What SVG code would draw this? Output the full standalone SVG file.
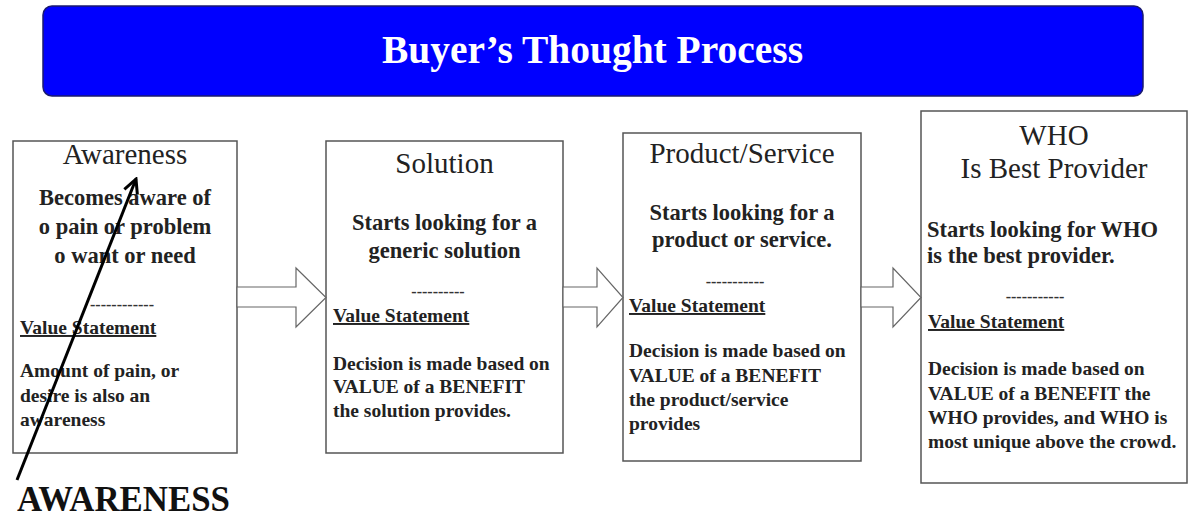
<svg xmlns="http://www.w3.org/2000/svg" width="1194" height="519" viewBox="0 0 1194 519">
<style>
.box{fill:#fff;stroke:#555;stroke-width:1.5}
.blk{fill:#fff;stroke:#666;stroke-width:1.2}
.hd{font-family:"Liberation Serif","Times New Roman",serif;font-size:29px;fill:#222;text-anchor:middle}
.tb{font-family:"Liberation Serif","Times New Roman",serif;font-weight:bold;font-size:22.5px;fill:#222}
.lb{font-family:"Liberation Serif","Times New Roman",serif;font-weight:bold;font-size:19.5px;fill:#222}
.ds{font-family:"Liberation Serif","Times New Roman",serif;font-weight:bold;font-size:16px;fill:#333;text-anchor:middle}
.mid{text-anchor:middle}
.ul{text-decoration:underline}
</style>
<defs>
<marker id="vhead" markerUnits="userSpaceOnUse" viewBox="0 0 18 18" refX="16" refY="9" markerWidth="18" markerHeight="18" orient="auto">
<path d="M2,2 L16,9 L2,16" fill="none" stroke="#000" stroke-width="3"/>
</marker>
</defs>
<rect width="1194" height="519" fill="#fff"/>
<g id="title">
<rect x="43" y="6" width="1100" height="90" rx="9" fill="#0000ff" stroke="#1a1a70" stroke-width="1.5"/>
<text x="592.5" y="63" text-anchor="middle" textLength="421" lengthAdjust="spacingAndGlyphs" style="font-family:'Liberation Serif','Times New Roman',serif;font-weight:bold;font-size:40px;fill:#fff">Buyer’s Thought Process</text>
</g>
<g id="awareness">
<rect class="box" x="13" y="141" width="224" height="312"/>
<text class="hd" x="125" y="164">Awareness</text>
<text class="tb mid" x="125" y="205">Becomes aware of</text>
<text class="tb mid" x="125" y="234">o pain or problem</text>
<text class="tb mid" x="125" y="263">o want or need</text>
<text class="ds" x="122" y="310">------------</text>
<text class="lb ul" x="20" y="334">Value Statement</text>
<text class="lb" x="20" y="377">Amount of pain, or</text>
<text class="lb" x="20" y="402">desire is also an</text>
<text class="lb" x="20" y="426">awareness</text>
</g>
<g id="solution">
<rect class="box" x="326" y="141" width="237" height="312"/>
<text class="hd" x="444.5" y="173">Solution</text>
<text class="tb mid" x="444.5" y="230">Starts looking for a</text>
<text class="tb mid" x="444.5" y="258">generic solution</text>
<text class="ds" x="438" y="297">----------</text>
<text class="lb ul" x="333" y="322">Value Statement</text>
<text class="lb" x="333" y="370">Decision is made based on</text>
<text class="lb" x="333" y="393">VALUE of a BENEFIT</text>
<text class="lb" x="333" y="417">the solution provides.</text>
</g>
<g id="product-service">
<rect class="box" x="623" y="133" width="238" height="328"/>
<text class="hd" x="742" y="163">Product/Service</text>
<text class="tb mid" x="742" y="220">Starts looking for a</text>
<text class="tb mid" x="742" y="247">product or service.</text>
<text class="ds" x="735" y="287">-----------</text>
<text class="lb ul" x="629" y="312">Value Statement</text>
<text class="lb" x="629" y="357">Decision is made based on</text>
<text class="lb" x="629" y="382">VALUE of a BENEFIT</text>
<text class="lb" x="629" y="406">the product/service</text>
<text class="lb" x="629" y="430">provides</text>
</g>
<g id="who-provider">
<rect class="box" x="921" y="111" width="266" height="372"/>
<text class="hd" x="1054" y="145">WHO</text>
<text class="hd" x="1054" y="178">Is Best Provider</text>
<text class="tb" x="927" y="237">Starts looking for WHO</text>
<text class="tb" x="927" y="263">is the best provider.</text>
<text class="ds" x="1035" y="302">-----------</text>
<text class="lb ul" x="928" y="328">Value Statement</text>
<text class="lb" x="928" y="375">Decision is made based on</text>
<text class="lb" x="928" y="400">VALUE of a BENEFIT the</text>
<text class="lb" x="928" y="424">WHO provides, and WHO is</text>
<text class="lb" x="928" y="448">most unique above the crowd.</text>
</g>
<g id="awareness-label">
<text x="17" y="511" textLength="213" lengthAdjust="spacingAndGlyphs" style="font-family:'Liberation Serif','Times New Roman',serif;font-weight:bold;font-size:35px;fill:#111">AWARENESS</text>
</g>
<g id="connectors">
<polygon class="blk" points="237,287 296,287 296,268 326,297.5 296,327 296,307 237,307"/>
<polygon class="blk" points="563,287 597,287 597,268 623,297.5 597,327 597,307 563,307"/>
<polygon class="blk" points="861,287 893,287 893,268 921,297.5 893,327 893,307 861,307"/>
<line x1="17" y1="480" x2="136" y2="179" stroke="#000" stroke-width="3" marker-end="url(#vhead)"/>
</g>
</svg>
